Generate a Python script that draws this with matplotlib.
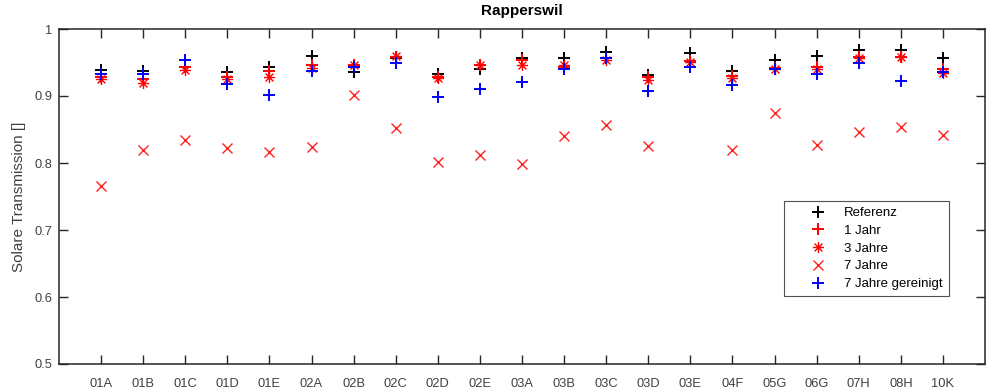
import numpy as np
import matplotlib.pyplot as plt
from matplotlib.path import Path

plt.rcParams['font.family'] = ['Liberation Sans', 'DejaVu Sans']

labels = ['01A', '01B', '01C', '01D', '01E', '02A', '02B', '02C', '02D', '02E', '03A',
          '03B', '03C', '03D', '03E', '04F', '05G', '06G', '07H', '08H', '10K']

referenz = [0.939, 0.938, 0.943, 0.936, 0.944, 0.959, 0.936, 0.957, 0.933, 0.941, 0.957,
            0.957, 0.966, 0.932, 0.964, 0.938, 0.954, 0.959, 0.969, 0.968, 0.956]
jahr1 = [0.928, 0.925, 0.944, 0.928, 0.938, 0.947, 0.946, 0.958, 0.928, 0.947, 0.953,
         0.943, 0.957, 0.928, 0.952, 0.930, 0.942, 0.943, 0.958, 0.958, 0.941]
jahre3 = [0.925, 0.919, 0.939, 0.925, 0.928, 0.942, 0.947, 0.959, 0.927, 0.947, 0.946,
          0.947, 0.954, 0.924, 0.951, 0.927, 0.940, 0.940, 0.957, 0.958, 0.934]
jahre7 = [0.766, 0.819, 0.834, 0.822, 0.817, 0.824, 0.901, 0.852, 0.801, 0.812, 0.798,
          0.841, 0.856, 0.826, np.nan, 0.819, 0.875, 0.827, 0.847, 0.853, 0.842]
jahre7_rein = [0.933, 0.933, 0.953, 0.918, 0.902, 0.938, 0.944, 0.950, 0.898, 0.911, 0.921,
               0.940, 0.957, 0.908, 0.944, 0.916, 0.940, 0.933, 0.950, 0.923, 0.936]

x = np.arange(1, len(labels) + 1)

# matlab style asterisk: + and x on top of each other
d = 0.7071
asterisk = Path([(-1, 0), (1, 0), (0, -1), (0, 1), (-d, -d), (d, d), (-d, d), (d, -d)],
                [Path.MOVETO, Path.LINETO] * 4)

fig = plt.figure(figsize=(9.9, 3.92), dpi=100)
ax = fig.add_axes([59 / 990, 28 / 392, 926 / 990, 335 / 392])

ax.plot(x, referenz, 'k+', ms=8.6, mew=1.4, label='Referenz')
ax.plot(x, jahr1, '+', color='red', ms=8.6, mew=1.4, label='1 Jahr')
ax.plot(x, jahre3, ls='none', marker=asterisk, color='red', ms=8, mew=1.0, label='3 Jahre')
ax.plot(x, jahre7, 'x', color='#ff2020', ms=6.7, mew=1.0, label='7 Jahre')
ax.plot(x, jahre7_rein, '+', color='blue', ms=8.6, mew=1.4, label='7 Jahre gereinigt')

ax.set_xlim(0, 22)
ax.set_ylim(0.5, 1.0)
ax.set_xticks(x)
ax.set_xticklabels(labels)
ax.set_yticks([0.5, 0.6, 0.7, 0.8, 0.9, 1.0])
ax.set_yticklabels(['0.5', '0.6', '0.7', '0.8', '0.9', '1'])
ax.tick_params(direction='in', top=True, right=True, labelsize=9.3, length=6.5, width=1.0,
               color='#262626', labelcolor='#404040', pad=5)
ax.tick_params(axis='x', pad=10)
for sp in ax.spines.values():
    sp.set_color('#262626')
    sp.set_linewidth(1.1)

ax.set_ylabel('Solare Transmission []', fontsize=11, color='#404040', labelpad=6)
ax.set_title('Rapperswil', fontsize=11, fontweight='bold', pad=10)

leg = ax.legend(loc='upper left', bbox_to_anchor=(0.783, 0.4866), borderaxespad=0,
                fontsize=9.5, frameon=True, fancybox=False, edgecolor='#262626',
                handlelength=4.2, handletextpad=-0.1, borderpad=0.45, labelspacing=0.42)
leg.get_frame().set_linewidth(0.8)

fig.savefig('out.png', dpi=100)
